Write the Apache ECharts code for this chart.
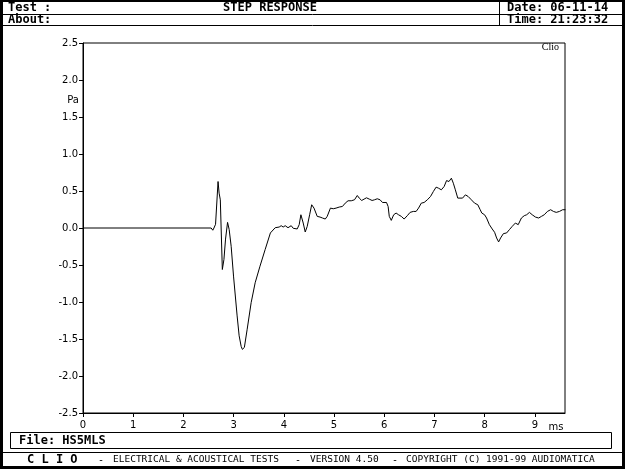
<!DOCTYPE html>
<html>
<head>
<meta charset="utf-8">
<script src="https://cdn.jsdelivr.net/npm/echarts@6/dist/echarts.min.js"></script>
<style>
html,body{margin:0;padding:0;background:#fff;}
#chart{width:625px;height:469px;}
</style>
</head>
<body>
<div id="chart"></div>
<script>
// Time axis (ms) and step response (Pa)
var timeMs = [0, 2.552, 2.585, 2.608, 2.625, 2.640, 2.671, 2.690, 2.711, 2.735, 2.775, 2.807, 2.839, 2.879, 2.911, 2.951, 2.998, 3.070, 3.110, 3.150, 3.174, 3.214, 3.270, 3.349, 3.429, 3.525, 3.628, 3.732, 3.828, 3.907, 3.947, 3.987, 4.027, 4.083, 4.147, 4.187, 4.226, 4.266, 4.306, 4.340, 4.386, 4.426, 4.466, 4.514, 4.555, 4.601, 4.665, 4.721, 4.769, 4.825, 4.864, 4.928, 4.984, 5.040, 5.104, 5.167, 5.223, 5.279, 5.343, 5.407, 5.463, 5.502, 5.550, 5.598, 5.646, 5.702, 5.758, 5.805, 5.861, 5.917, 5.965, 5.997, 6.045, 6.077, 6.100, 6.140, 6.188, 6.236, 6.284, 6.340, 6.396, 6.459, 6.515, 6.579, 6.635, 6.683, 6.738, 6.794, 6.858, 6.922, 6.978, 7.033, 7.081, 7.137, 7.193, 7.241, 7.289, 7.337, 7.376, 7.416, 7.464, 7.496, 7.560, 7.616, 7.671, 7.735, 7.799, 7.863, 7.911, 7.943, 7.998, 8.038, 8.094, 8.150, 8.198, 8.238, 8.278, 8.317, 8.373, 8.437, 8.493, 8.549, 8.612, 8.668, 8.732, 8.788, 8.836, 8.892, 8.947, 9.011, 9.075, 9.131, 9.187, 9.250, 9.314, 9.370, 9.426, 9.490, 9.553, 9.585, 9.609];
var pressurePa = [0, 0, -0.030, 0.000, -0.010, 0.050, 0.070, 0.628, 0.471, 0.381, -0.561, -0.426, -0.150, 0.076, -0.020, -0.247, -0.650, -1.188, -1.457, -1.600, -1.640, -1.614, -1.368, -1.009, -0.740, -0.516, -0.291, -0.067, 0.004, 0.013, 0.031, 0.013, 0.031, 0.004, 0.031, -0.004, 0.022, -0.013, 0.045, 0.179, 0.067, -0.054, 0.022, 0.179, 0.314, 0.269, 0.157, 0.148, 0.135, 0.121, 0.157, 0.269, 0.260, 0.269, 0.283, 0.291, 0.336, 0.368, 0.368, 0.381, 0.439, 0.404, 0.372, 0.390, 0.408, 0.390, 0.372, 0.381, 0.395, 0.381, 0.345, 0.336, 0.345, 0.291, 0.157, 0.103, 0.179, 0.202, 0.179, 0.157, 0.121, 0.166, 0.211, 0.224, 0.224, 0.269, 0.336, 0.345, 0.381, 0.426, 0.493, 0.552, 0.538, 0.516, 0.561, 0.641, 0.628, 0.673, 0.605, 0.516, 0.404, 0.381, 0.404, 0.448, 0.426, 0.381, 0.336, 0.314, 0.247, 0.202, 0.179, 0.135, 0.045, -0.013, -0.058, -0.135, -0.188, -0.135, -0.076, -0.067, -0.022, 0.022, 0.067, 0.045, 0.135, 0.166, 0.179, 0.211, 0.179, 0.148, 0.135, 0.157, 0.179, 0.224, 0.247, 0.224, 0.211, 0.224, 0.247, 0.224, 0.247];
var yTicks = [-2.5, -2.0, -1.5, -1.0, -0.5, 0.0, 0.5, 1.0, 1.5, 2.0, 2.5];
var xTicks = [0, 1, 2, 3, 4, 5, 6, 7, 8, 9];

var data = timeMs.map(function (t, i) { return [t, pressurePa[i]]; });

var chart = echarts.init(document.getElementById('chart'), null, {renderer: 'canvas'});
var mono = '"DejaVu Sans Mono", "Liberation Mono", monospace';
var sans = '"DejaVu Sans", "Liberation Sans", sans-serif';

function txt(x, y, s, opts) {
  opts = opts || {};
  return {
    type: 'text', x: x, y: y, silent: true, z: 10,
    style: {
      text: s, fill: '#000',
      font: opts.font || ('bold 12px ' + mono),
      textAlign: opts.align || 'left', textVerticalAlign: 'middle'
    }
  };
}
function rect(x, y, w, h, fill) {
  return { type: 'rect', silent: true, z: 9, shape: {x: x, y: y, width: w, height: h}, style: {fill: fill} };
}
function hline(x1, x2, y) {
  return { type: 'line', silent: true, z: 9, shape: {x1: x1, y1: y, x2: x2, y2: y}, style: {stroke: '#000', lineWidth: 1} };
}
function vline(x, y1, y2) {
  return { type: 'line', silent: true, z: 9, shape: {x1: x, y1: y1, x2: x, y2: y2}, style: {stroke: '#000', lineWidth: 1} };
}

var option = {
  animation: false,
  backgroundColor: '#fff',
  grid: {left: 83, top: 43, width: 482, height: 370, show: true, borderColor: '#000', borderWidth: 1, backgroundColor: 'transparent'},
  xAxis: {
    type: 'value', min: 0, max: 9.6, interval: 1,
    axisLine: {show: true, onZero: false, lineStyle: {color: '#000', width: 1}},
    axisTick: {show: true, inside: false, length: 4, customValues: xTicks, lineStyle: {color: '#000'}},
    axisLabel: {
      color: '#000', fontFamily: sans, fontSize: 10, margin: 7, customValues: xTicks,
      formatter: function (v) { return String(v); }
    },
    splitLine: {show: false}
  },
  yAxis: {
    type: 'value', min: -2.5, max: 2.5, interval: 0.5,
    axisLine: {show: true, onZero: false, lineStyle: {color: '#000', width: 1}},
    axisTick: {show: true, inside: false, length: 4, lineStyle: {color: '#000'}},
    axisLabel: {
      color: '#000', fontFamily: sans, fontSize: 10, margin: 5,
      formatter: function (v) {
        var k = yTicks.indexOf(Math.round(v * 10) / 10);
        return k >= 0 ? yTicks[k].toFixed(1) : '';
      }
    },
    splitLine: {show: false}
  },
  series: [{
    type: 'line', data: data, showSymbol: false, symbol: 'none',
    lineStyle: {color: '#000', width: 1}, z: 5
  }],
  graphic: [
    // outer frame
    rect(0, 0, 625, 2, '#000'),
    rect(0, 0, 3, 469, '#000'),
    rect(622, 0, 3, 469, '#000'),
    rect(0, 466, 625, 3, '#000'),
    hline(3, 622, 14.5),
    hline(3, 622, 25.5),
    vline(499.5, 2, 25),
    txt(8, 8, 'Test :'),
    txt(270, 8, 'STEP RESPONSE', {align: 'center'}),
    txt(507, 8, 'Date: 06-11-14'),
    txt(8, 19.5, 'About:'),
    txt(507, 19.5, 'Time: 21:23:32'),
    // axis captions
    txt(73, 100, 'Pa', {font: '10px ' + sans, align: 'center'}),
    txt(556, 427, 'ms', {font: '10px ' + sans, align: 'center'}),
    txt(559, 47, 'Clio', {font: '10px "Liberation Serif", "DejaVu Serif", serif', align: 'right'}),
    // file box
    { type: 'rect', silent: true, z: 9, shape: {x: 10.5, y: 432.5, width: 601, height: 16}, style: {fill: 'none', stroke: '#000', lineWidth: 1} },
    txt(19, 441, 'File: HS5MLS'),
    hline(3, 622, 452.5),
    // footer
    txt(27, 460, 'C L I O', {font: 'bold 12px ' + mono}),
    txt(98, 460, '-', {font: '10px ' + mono}),
    txt(113, 460, 'ELECTRICAL & ACOUSTICAL TESTS', {font: '9.5px ' + mono}),
    txt(295, 460, '-', {font: '10px ' + mono}),
    txt(310, 460, 'VERSION 4.50', {font: '9.5px ' + mono}),
    txt(392, 460, '-', {font: '10px ' + mono}),
    txt(406, 460, 'COPYRIGHT (C) 1991-99 AUDIOMATICA', {font: '9.5px ' + mono})
  ]
};
chart.setOption(option);
</script>
</body>
</html>
